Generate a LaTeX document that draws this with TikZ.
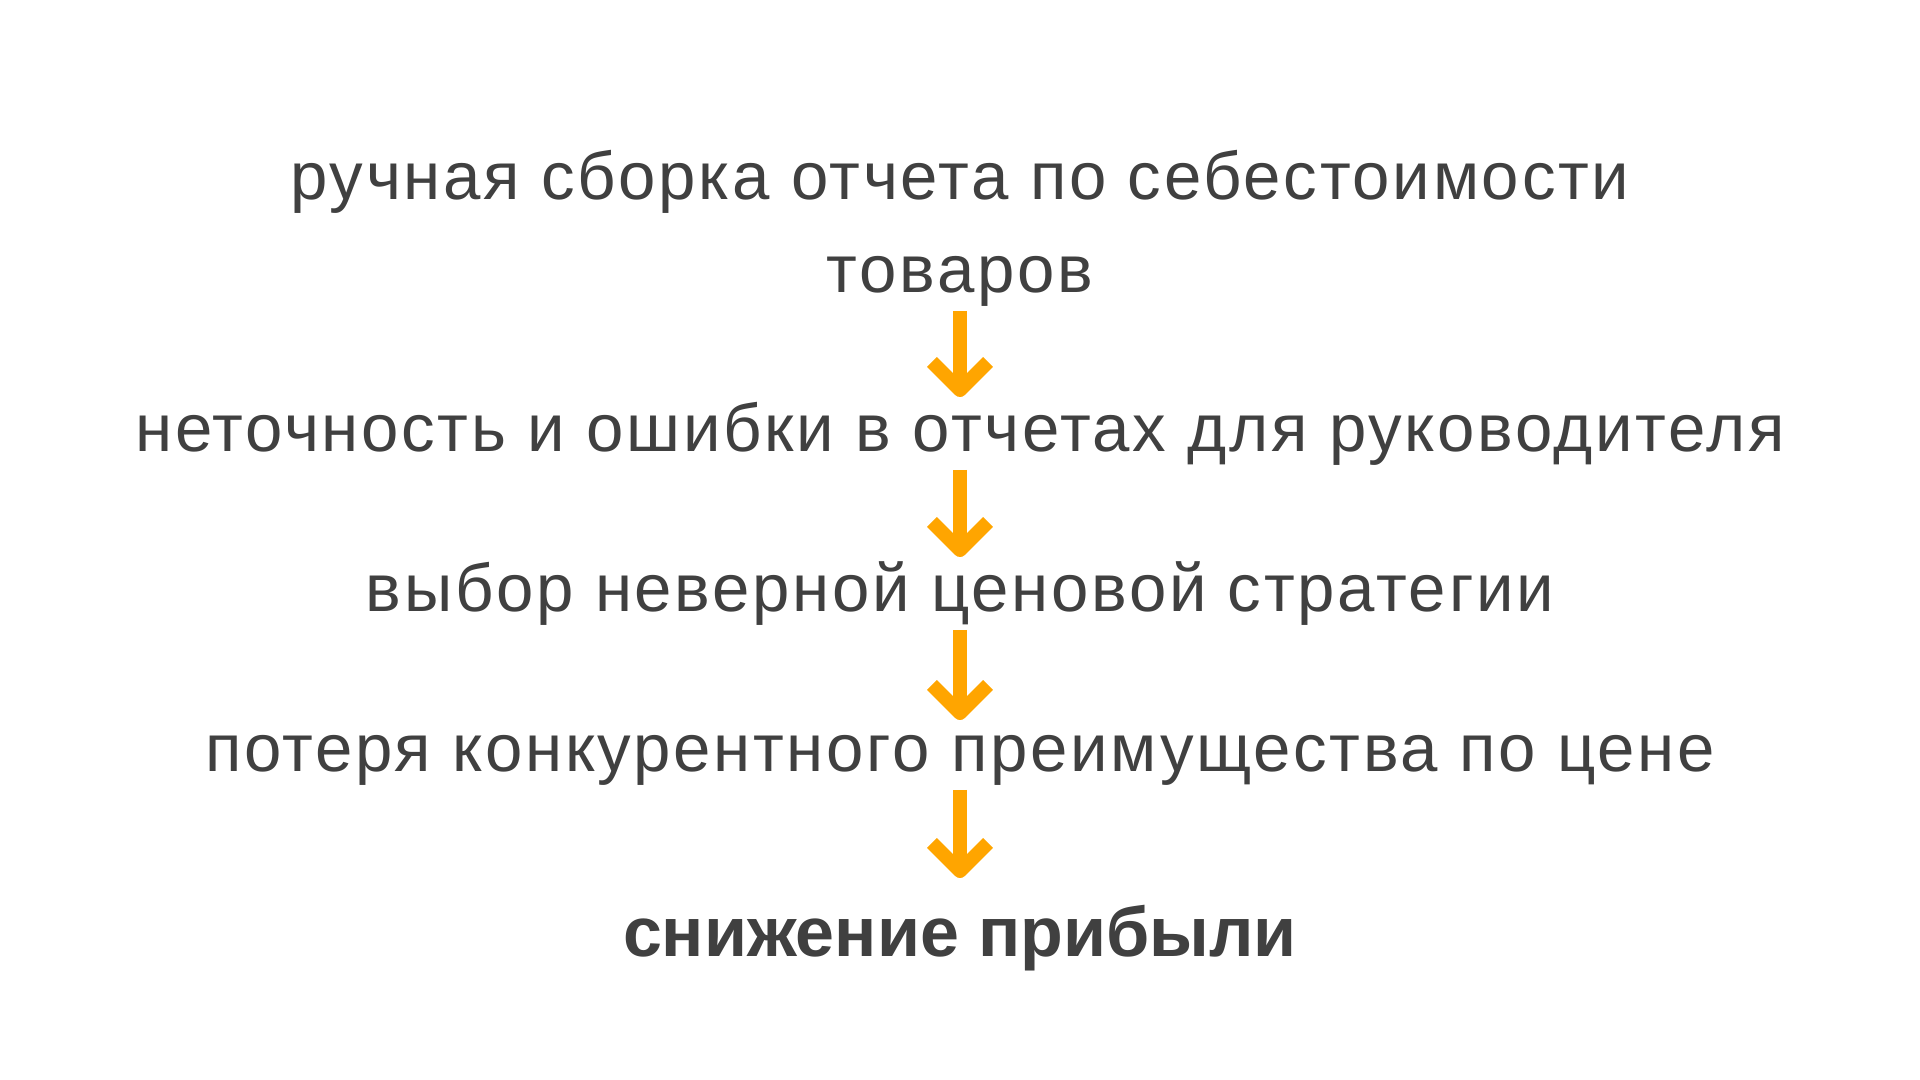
\documentclass[tikz,border=0pt]{standalone}
\usepackage{fontspec}
\setmainfont{Liberation Sans}
\newfontfamily\spacedfont[LetterSpace=4]{Liberation Sans}
\usepackage{xcolor}
\usepackage{tikz}
\usetikzlibrary{positioning}
\definecolor{basegray}{HTML}{404040}
\definecolor{baseorange}{HTML}{FFA500}
\tikzset{
  cause/.style={inner sep=0pt,text depth=0pt,align=center,text=basegray,
    font=\spacedfont\fontsize{19.1}{26.5}\selectfont},
  result/.style={cause,font=\bfseries\fontsize{19.9}{24}\selectfont},
  flow/.style={baseorange,line width=0.14cm},
  chev/.style={flow,line join=round}
}
\begin{document}
\begin{tikzpicture}[x=0.01cm,y=-0.01cm]
  \useasboundingbox (0,0) rectangle (1920,1080);
  \node[cause,anchor=south] (l1) at (960,293) {ручная сборка отчета по себестоимости\\товаров};
  \node[cause,anchor=south] (l2) at (960,452) {неточность и ошибки в отчетах для руководителя};
  \node[cause,anchor=south] (l3) at (960,612) {выбор неверной ценовой стратегии};
  \node[cause,anchor=south] (l4) at (960,772) {потеря конкурентного преимущества по цене};
  \node[result,anchor=south] (l5) at (960,957) {снижение прибыли};
  % shaft, then the chevron at its lower end
  \foreach \a/\b/\e in {l1/l2/62,l2/l3/62,l3/l4/59,l4/l5/86} {
    \draw[flow] ([shift={(0,18)}]\a.south) -- ([shift={(0,-\e)}]\b.south) coordinate (t);
    \draw[chev] ([shift={(-28,-28)}]t) -- (t) -- ([shift={(28,-28)}]t);
  }
\end{tikzpicture}
\end{document}
